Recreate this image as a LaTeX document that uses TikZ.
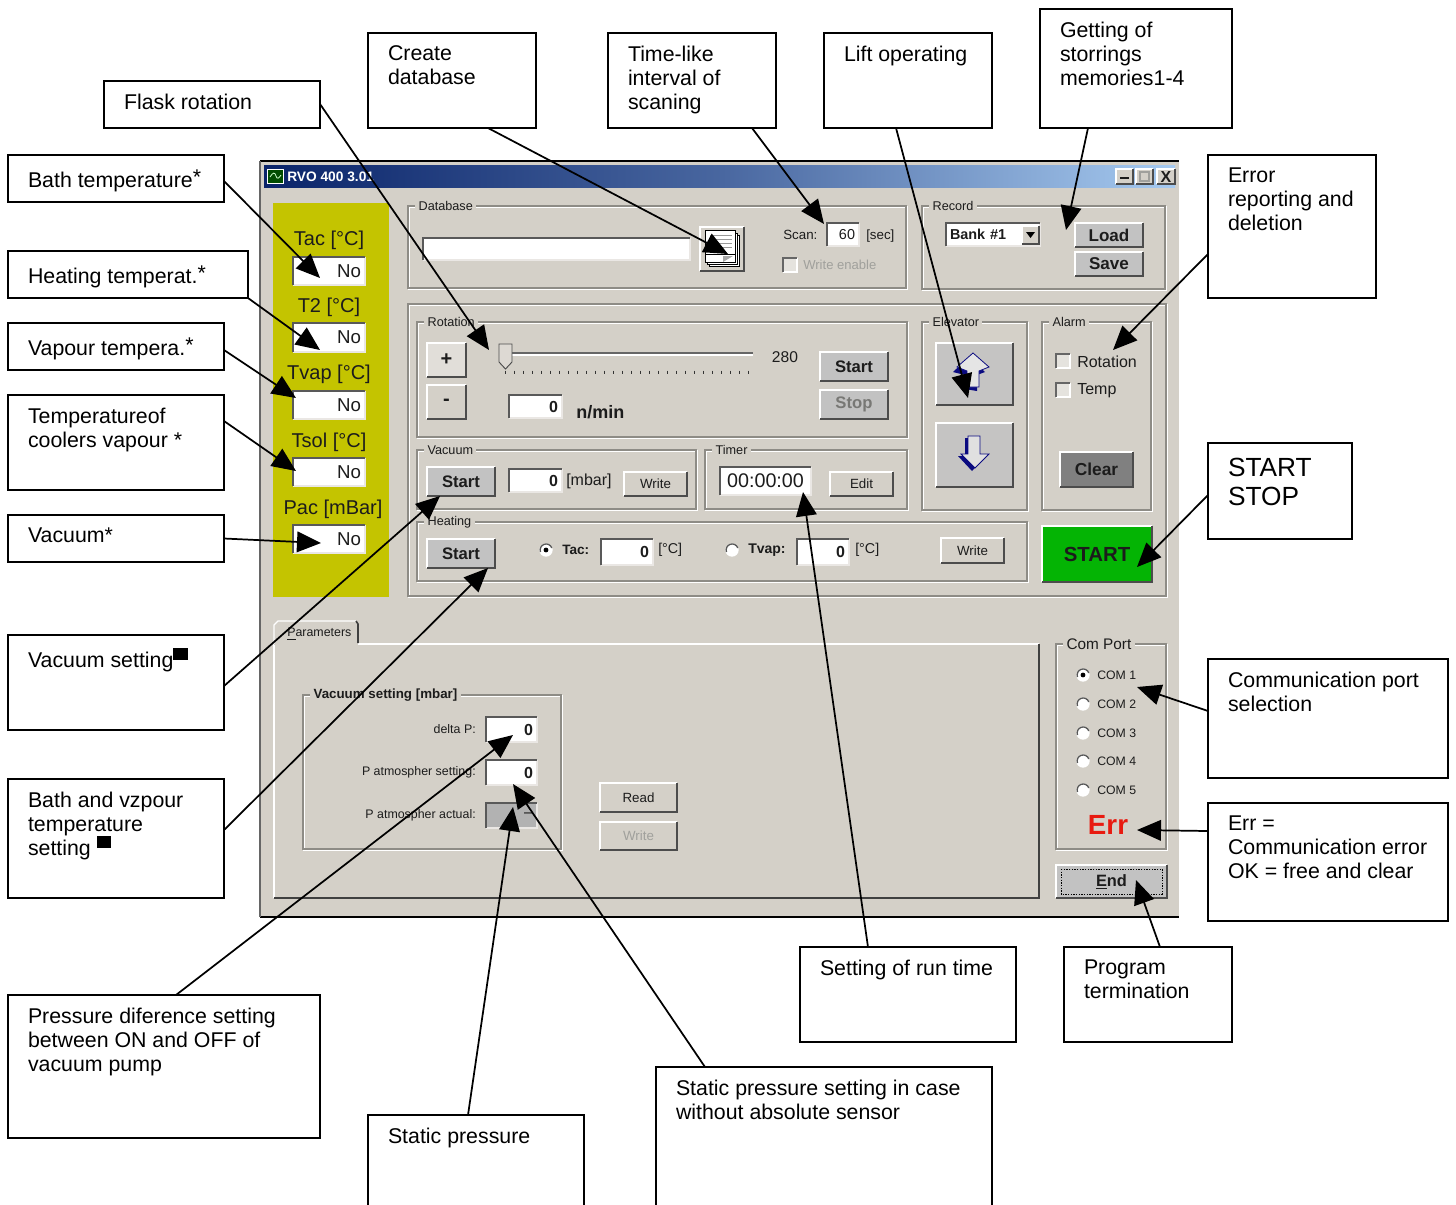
\documentclass[tikz,border=0pt]{standalone}
\usepackage{fontspec}
\setmainfont{Liberation Sans}
\usetikzlibrary{arrows.meta}
\definecolor{winbg}{HTML}{D4D0C8}
\definecolor{btnface}{HTML}{C2C2C2}
\definecolor{titledark}{HTML}{0A246A}
\definecolor{titlelight}{HTML}{A6CAF0}
\definecolor{panelyellow}{HTML}{C4C400}
\definecolor{etch}{HTML}{8E8C86}
\definecolor{uiink}{HTML}{1C1C1C}
\definecolor{uidis}{HTML}{A0A09C}
\definecolor{startgreen}{HTML}{04B404}
\definecolor{clearbtn}{HTML}{808080}
\definecolor{errred}{HTML}{E81A10}
\definecolor{navy}{HTML}{0A0A80}
\newcommand{\fs}[1]{\fontsize{#1}{#1}\selectfont}
\newcounter{uin}
\tikzset{
  calloutbox/.style={draw=black,line width=1.3pt,outer sep=0pt,fill=white,anchor=north west,inner ysep=0pt,inner xsep=15pt,font={\fs{16}}},
  callarrow/.style={draw=black,line width=1.3pt,-{Triangle[length=18pt,width=15.5pt]}},
  uilabel/.style={inner sep=0pt,text=uiink},
  raisedbtn/.style={anchor=north west,inner sep=0pt,outer sep=0pt,fill=btnface,text=uiink},
  sunkenfield/.style={anchor=north west,inner sep=0pt,outer sep=0pt,fill=white,text=uiink},
  framebox/.style={anchor=north west,draw=etch,line width=0.8pt,inner sep=0pt,outer sep=0pt},
  frametitle/.style={anchor=west,fill=winbg,inner xsep=2.5pt,inner ysep=0pt,text=uiink},
  bevellight/.style={draw=white,line width=1.1pt},
  beveldark/.style={draw=black!70,line width=1.1pt},
}
% callout: [top offset px]{x1}{y1}{x2}{y2}{text}; the node is named <x1>x<y1>
\newcommand{\callout}[6][13]{%
  \pgfmathsetmacro\cw{(#4-#2-40)*0.75}%
  \pgfmathsetmacro\ch{(#5-#3)*0.75}%
  \pgfmathsetmacro\ct{#1*0.75}%
  \node[calloutbox] (#2x#3) at (#2,#3) {\parbox[c][\ch pt][t]{\cw pt}{\vspace*{\ct pt}\baselineskip=18pt\raggedright #6}};
}
\newcommand{\uitext}[5][]{\stepcounter{uin}\node[uilabel,font={\fs{#4}},#1] (ut\theuin) at (#2,#3) {#5};}
% button: {x1}{y1}{x2}{y2}{node opts}{text}
\newcommand{\uibutton}[6]{\stepcounter{uin}%
  \node[raisedbtn,minimum width={(#3-#1)*0.75pt},minimum height={(#4-#2)*0.75pt},#5] (ub\theuin) at (#1,#2) {#6};
  \draw[bevellight] (ub\theuin.south west) |- (ub\theuin.north east);
  \draw[beveldark] (ub\theuin.south west) -| (ub\theuin.north east);}
% field: {x1}{y1}{x2}{y2}{node opts}{text}
\newcommand{\uifield}[6]{\stepcounter{uin}%
  \pgfmathsetmacro\ftw{(#3-#1-8)*0.75}%
  \node[sunkenfield,minimum width={(#3-#1)*0.75pt},minimum height={(#4-#2)*0.75pt},text width=\ftw pt,align=right,#5] (uf\theuin) at (#1,#2) {#6};
  \draw[draw=winbg!50!white,line width=1.2pt] (uf\theuin.south west) -| (uf\theuin.north east);
  \draw[draw=black!65,line width=1.2pt] (uf\theuin.south west) |- (uf\theuin.north east);}
% frame: {x1}{y1}{x2}{y2}{title size}{title}
\newcommand{\uiframe}[6]{\stepcounter{uin}%
  \draw[white,line width=0.8pt] (#1+1,#2+1) rectangle (#3+1,#4+1);
  \node[framebox,minimum width={(#3-#1)*0.75pt},minimum height={(#4-#2)*0.75pt}] (ug\theuin) at (#1,#2) {};
  \node[frametitle,font={\fs{#5}}] (ugt\theuin) at (#1+7,#2) {#6};}
\newcommand{\uicheck}[2]{\stepcounter{uin}%
  \node[sunkenfield,fill=winbg!60!white,minimum width=10.5pt,minimum height=10.5pt] (uc\theuin) at (#1,#2) {};
  \draw[draw=white,line width=1pt] (uc\theuin.south west) -| (uc\theuin.north east);
  \draw[draw=black!60,line width=1pt] (uc\theuin.south west) |- (uc\theuin.north east);}
\newcommand{\uiradio}[3]{\stepcounter{uin}%
  \node[circle,fill=white,inner sep=0pt,minimum size=10pt] (ur\theuin) at (#1,#2) {};
  \draw[black!65,line width=1pt] (#1-5.5,#2+2) arc[start angle=200,end angle=20,x radius=6,y radius=-6];
  \ifnum#3=1 \fill[black] (#1,#2) circle[x radius=2.4,y radius=2.4];\fi}
\begin{document}
\begin{tikzpicture}[x=0.75pt,y=-0.75pt]
\path[use as bounding box,clip] (0,0) rectangle (1456,1204);
\fill[white] (0,0) rectangle (1456,1204);

% ---- window ----
\fill[winbg] (260,161) rectangle (1179,917);
\draw[black,line width=1.6pt] (260,161) -- (1179,161);
\draw[black,line width=1.6pt] (260,917) -- (1179,917);
\draw[black!60,line width=1.2pt] (260,161) -- (260,917);
\shade[left color=titledark,right color=titlelight,middle color=titledark!60!titlelight] (264,165) rectangle (1175,187);
\uitext[anchor=west,text=white]{287}{177}{10.3}{\bfseries RVO 400 3.01}
% window icon
\draw[white,line width=0.7pt,fill=black!70!green] (267,169) rectangle (283,183);
\draw[white!80!green,line width=0.6pt] (270,177) .. controls (273,172) and (275,172) .. (276,176) .. controls (277,180) and (279,178) .. (281,175);
\uibutton{1116}{169}{1133}{184}{fill=winbg}{\raisebox{-4pt}{\rule{7pt}{1.6pt}}}
\uibutton{1136}{169}{1153}{184}{fill=winbg}{}
\draw[uidis,line width=0.9pt] (1140,172) rectangle (1149,181);
\uibutton{1157}{169}{1175}{184}{fill=winbg}{\fs{12}\bfseries X}

% ---- yellow panel ----
\fill[panelyellow] (273,203) rectangle (389,597);
\uitext{329}{240}{15}{Tac [°C]}
\uitext{329}{307}{15}{T2 [°C]}
\uitext{329}{374}{15}{Tvap [°C]}
\uitext{329}{442}{15}{Tsol [°C]}
\uitext{333}{509}{15}{Pac [mBar]}
\uifield{293}{257}{365}{285}{font={\fs{14}}}{No}
\uifield{293}{323}{365}{352}{font={\fs{14}}}{No}
\uifield{293}{391}{365}{419}{font={\fs{14}}}{No}
\uifield{293}{458}{365}{486}{font={\fs{14}}}{No}
\uifield{293}{525}{365}{553}{font={\fs{14}}}{No}

% ---- database ----
\uiframe{408}{206}{906}{288}{9.5}{Database}
\uifield{423}{238}{690}{260}{}{}
\uibutton{700}{227}{744}{271}{fill=winbg}{}
\draw[black,fill=white,line width=0.6pt] (709,235) rectangle (739,266);
\draw[black,fill=white,line width=0.6pt] (707,233) rectangle (737,264);
\draw[black,fill=white,line width=0.6pt] (705,230) rectangle (735,262);
\foreach \yy in {235,239,243,247} \draw[black!40,line width=0.5pt] (710,\yy) -- (732,\yy);
\draw[black,line width=0.6pt] (705,254) -- (735,254);
\fill[black!35] (723,256) -- (733,256) -- (723,262) -- cycle;
\uitext[anchor=west]{783}{235}{10}{Scan:}
\uifield{827}{223}{859}{246}{font={\fs{10.8}}}{60}
\uitext[anchor=west]{866}{236}{10}{[sec]}
\uicheck{783}{258}
\uitext[anchor=west,text=uidis]{803}{265}{9.8}{Write enable}

% ---- record ----
\uiframe{922}{206}{1165}{289}{9.5}{Record}
\uifield{946}{223}{1040}{246}{align=left,font={\fs{10.8}\bfseries}}{Bank \#1}
\uibutton{1022}{226}{1039}{244}{fill=winbg}{}
\fill[black] (1026,232) -- (1035,232) -- (1030.5,238) -- cycle;
\uibutton{1075}{223}{1143}{247}{font={\fs{12.8}\bfseries}}{Load}
\uibutton{1075}{252}{1143}{276}{font={\fs{12.8}\bfseries}}{Save}

% ---- big group ----
\draw[white,line width=0.8pt] (409,305) rectangle (1167,597);
\node[framebox,minimum width=568.5pt,minimum height=219pt] (biggroup) at (408,304) {};

% rotation
\uiframe{417}{322}{907}{437}{9.5}{Rotation}
\uibutton{427}{343}{466}{377}{fill=winbg!70!white,font={\fs{15}\bfseries}}{+}
\uibutton{427}{385}{466}{419}{fill=winbg,font={\fs{15}\bfseries}}{-}
\fill[black!60] (505,352) rectangle (753,354);
\fill[white] (505,354) rectangle (753,355.5);
\foreach \tk in {0,...,27} \draw[black!80,line width=0.7pt] (505+\tk*9,370.5) -- (505+\tk*9,373.5);
\draw[black!70,line width=0.7pt,fill=winbg!80!white] (499,344) -- (512,344) -- (512,362) -- (505.5,369) -- (499,362) -- cycle;
\uifield{509}{395}{562}{418}{font={\fs{12}\bfseries}}{0}
\uitext[anchor=west]{576}{412}{13.5}{\bfseries n/min}
\uitext{785}{357}{11.7}{280}
\uibutton{820}{352}{888}{381}{font={\fs{12.5}\bfseries}}{Start}
\uibutton{820}{390}{888}{419}{font={\fs{12.5}\bfseries},text=uidis!75!black}{Stop}

% vacuum
\uiframe{417}{450}{696}{509}{9.5}{Vacuum}
\uibutton{427}{467}{495}{496}{font={\fs{12.5}\bfseries}}{Start}
\uifield{509}{469}{562}{492}{font={\fs{12}\bfseries}}{0}
\uitext[anchor=west]{566}{481}{12}{[mbar]}
\uibutton{624}{472}{687}{496}{fill=winbg,font={\fs{10}}}{Write}

% timer
\uiframe{705}{450}{907}{509}{9.5}{Timer}
\uifield{720}{467}{811}{495}{align=center,font={\fs{14.8}}}{00:00:00}
\uibutton{830}{472}{893}{496}{fill=winbg,font={\fs{10}}}{Edit}

% heating
\uiframe{417}{522}{1027}{581}{9.5}{Heating}
\uibutton{427}{539}{495}{568}{font={\fs{12.5}\bfseries}}{Start}
\uiradio{546}{550}{1}
\uitext[anchor=west]{562}{550}{10.2}{\bfseries Tac:}
\uifield{601}{539}{653}{565}{font={\fs{12}\bfseries}}{0}
\uitext[anchor=west]{658}{550}{10.7}{[°C]}
\uiradio{732}{550}{0}
\uitext[anchor=west]{748}{550}{10.5}{\bfseries Tvap:}
\uifield{797}{539}{849}{565}{font={\fs{12}\bfseries}}{0}
\uitext[anchor=west]{855}{550}{10.7}{[°C]}
\uibutton{941}{538}{1004}{563}{fill=winbg,font={\fs{10}}}{Write}

% elevator
\uiframe{922}{322}{1027}{510}{9.5}{Elevator}
\uibutton{936}{343}{1013}{405}{fill=btnface!85!winbg}{}
\uibutton{936}{423}{1013}{487}{fill=btnface!85!winbg}{}
\fill[navy] (965,375) -- (953,372) -- (969,357) -- (985,372) -- (977,375) -- (977,391) -- (965,389) -- cycle;
\draw[navy,line width=0.6pt,fill=white!90!black] (967,371) -- (957,367) -- (973,353) -- (989,367) -- (979,371) -- (979,387) -- (967,387) -- cycle;
\fill[navy] (965,438) -- (977,438) -- (977,456) -- (986,456) -- (972,471) -- (958,456) -- (965,456) -- cycle;
\draw[navy,line width=0.6pt,fill=white!88!black] (968,436) -- (980,436) -- (980,454) -- (989,454) -- (975,468) -- (961,454) -- (968,454) -- cycle;

% alarm
\uiframe{1042}{322}{1151}{510}{9.5}{Alarm}
\uicheck{1056}{354}
\uitext[anchor=west]{1077}{362}{12}{Rotation}
\uicheck{1056}{383}
\uitext[anchor=west]{1077}{391}{12}{Temp}
\uibutton{1060}{452}{1133}{487}{fill=clearbtn,font={\fs{13}\bfseries}}{Clear}

% start
\uibutton{1042}{526}{1152}{582}{fill=startgreen,font={\fs{15.3}\bfseries}}{START}

% ---- parameters tab ----
\draw[white,line width=1pt] (274,898) -- (274,644) -- (1039,644);
\draw[black!75,line width=1.2pt] (274,898) -- (1039,898) -- (1039,644);
\fill[winbg] (274,626) rectangle (358,645);
\draw[white,line width=1pt] (274,644) -- (274,625) -- (278,621) -- (356,621);
\draw[black!75,line width=1.2pt] (356,621) -- (358,624) -- (358,643);
\uitext[anchor=west]{287}{634}{9.3}{\underline{P}arameters}
\uiframe{303}{695}{561}{849}{10}{\bfseries Vacuum setting [mbar]}
\uitext[anchor=east]{476}{729}{9.3}{delta P:}
\uitext[anchor=east]{476}{772}{9.3}{P atmospher setting:}
\uitext[anchor=east]{476}{815}{9.3}{P atmospher actual:}
\uifield{486}{717}{537}{742}{font={\fs{12}\bfseries}}{0}
\uifield{486}{760}{537}{785}{font={\fs{12}\bfseries}}{0}
\uifield{486}{803}{537}{828}{fill=black!30,font={\fs{12}}}{--}
\uibutton{600}{783}{677}{812}{fill=winbg,font={\fs{10}}}{Read}
\uibutton{600}{822}{677}{850}{fill=winbg,text=uidis,font={\fs{10}}}{Write}

% ---- com port ----
\uiframe{1056}{644}{1166}{849}{11.5}{Com Port}
\uiradio{1083}{675}{1}
\uiradio{1083}{704}{0}
\uiradio{1083}{733}{0}
\uiradio{1083}{761}{0}
\uiradio{1083}{790}{0}
\uitext[anchor=west]{1097}{675}{9.2}{COM 1}
\uitext[anchor=west]{1097}{704}{9.2}{COM 2}
\uitext[anchor=west]{1097}{733}{9.2}{COM 3}
\uitext[anchor=west]{1097}{761}{9.2}{COM 4}
\uitext[anchor=west]{1097}{790}{9.2}{COM 5}
\uitext[text=errred]{1108}{825}{20.8}{\bfseries Err}
\uibutton{1056}{865}{1167}{898}{font={\fs{12.3}\bfseries}}{\underline{E}nd}
\draw[black,line width=0.6pt,dash pattern=on 1pt off 1pt] (1061,869) rectangle (1162,894);

% ---- callouts ----
\callout{104}{81}{320}{128}{Flask rotation}
\callout{368}{33}{536}{128}{Create\\database}
\callout{608}{33}{776}{128}{Time-like\\interval of\\scaning}
\callout{824}{33}{992}{128}{Lift operating}
\callout{1040}{9}{1232}{128}{Getting of\\storrings\\memories1-4}
\callout[15]{8}{155}{224}{202}{Bath temperature\raisebox{2pt}{*}}
\callout[15]{8}{251}{248}{298}{Heating temperat.\raisebox{2pt}{*}}
\callout[15]{8}{323}{224}{370}{Vapour tempera.\raisebox{2pt}{*}}
\callout{8}{395}{224}{490}{Temperatureof\\coolers vapour *}
\callout{8}{515}{224}{562}{Vacuum*}
\callout{8}{635}{224}{730}{Vacuum setting\rule[5.25pt]{11pt}{9pt}}
\callout{8}{779}{224}{898}{Bath and vzpour\\temperature\\setting \rule[5.25pt]{11pt}{9pt}}
\callout{8}{995}{320}{1138}{Pressure diference setting\\between ON and OFF of\\vacuum pump}
\callout{368}{1115}{584}{1230}{Static pressure}
\callout{656}{1067}{992}{1230}{Static pressure setting in case\\without absolute sensor}
\callout{800}{947}{1016}{1042}{Setting of run time}
\callout{1064}{947}{1232}{1042}{Program\\termination}
\callout{1208}{803}{1448}{921}{Err =\\Communication error\\OK = free and clear}
\callout{1208}{659}{1448}{778}{Communication port\\selection}
\callout{1208}{155}{1376}{298}{Error\\reporting and\\deletion}
\callout[15]{1208}{443}{1352}{539}{\fs{19.7}\baselineskip=22pt START\\STOP}

% ---- arrow tips ----
\coordinate (tipTac) at (320,278);
\coordinate (tipT2) at (320,350);
\coordinate (tipTvap) at (296,398);
\coordinate (tipTsol) at (296,471);
\coordinate (tipPac) at (321,543);
\coordinate (tipVacStart) at (440,496);
\coordinate (tipHeatStart) at (488,568);
\coordinate (tipSlider) at (489,350);
\coordinate (tipDb) at (728,254);
\coordinate (tipScan) at (824,224);
\coordinate (tipLift) at (968,398);
\coordinate (tipRecord) at (1066,230);
\coordinate (tipAlarm) at (1113,350);
\coordinate (tipStart) at (1137,567);
\coordinate (tipCom) at (1137,687);
\coordinate (tipErr) at (1137,830);
\coordinate (tipEnd) at (1136,880);
\coordinate (tipTimer) at (803,492);
\coordinate (tipAtmSet) at (513,784);
\coordinate (tipAtmAct) at (513,807);
\coordinate (tipDelta) at (513,735);

% ---- arrows ----
\draw[callarrow] ([shift={(0,2.5)}]8x155.east) -- (tipTac);
\draw[callarrow] (8x251.south east) -- (tipT2);
\draw[callarrow] ([shift={(0,3.5)}]8x323.east) -- (tipTvap);
\draw[callarrow] ([shift={(0,-21.5)}]8x395.east) -- (tipTsol);
\draw[callarrow] (8x515.east) -- (tipPac);
\draw[callarrow] ([shift={(0,3.5)}]8x635.east) -- (tipVacStart);
\draw[callarrow] ([shift={(0,-68)}]8x779.south east) -- (tipHeatStart);
\draw[callarrow] ([shift={(0,-0.5)}]104x81.east) -- (tipSlider);
\draw[callarrow] ([shift={(-48,0)}]368x33.south east) -- (tipDb);
\draw[callarrow] ([shift={(-24,0)}]608x33.south east) -- (tipScan);
\draw[callarrow] ([shift={(-96,0)}]824x33.south east) -- (tipLift);
\draw[callarrow] ([shift={(-144,0)}]1040x9.south east) -- (tipRecord);
\draw[callarrow] ([shift={(0,27.5)}]1208x155.west) -- (tipAlarm);
\draw[callarrow] ([shift={(0,4)}]1208x443.west) -- (tipStart);
\draw[callarrow] ([shift={(0,-7.5)}]1208x659.west) -- (tipCom);
\draw[callarrow] ([shift={(0,-31)}]1208x803.west) -- (tipErr);
\draw[callarrow] ([shift={(96,0)}]1064x947.north west) -- (tipEnd);
\draw[callarrow] ([shift={(68,0)}]800x947.north west) -- (tipTimer);
\draw[callarrow] ([shift={(49,0)}]656x1067.north west) -- (tipAtmSet);
\draw[callarrow] ([shift={(100,0)}]368x1115.north west) -- (tipAtmAct);
\draw[callarrow] ([shift={(168,0)}]8x995.north west) -- (tipDelta);
\end{tikzpicture}
\end{document}
